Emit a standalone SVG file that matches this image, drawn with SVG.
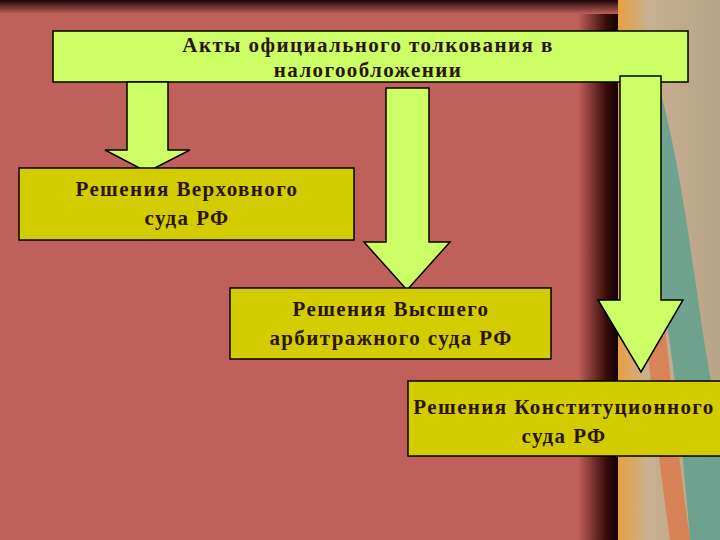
<svg xmlns="http://www.w3.org/2000/svg" width="720" height="540" viewBox="0 0 720 540">
<defs>
<linearGradient id="top" x1="0" y1="0" x2="0" y2="1"><stop offset="0" stop-color="#1a0505"/><stop offset="1" stop-color="#c0605a"/></linearGradient>
<linearGradient id="rs" x1="0" y1="0" x2="1" y2="0"><stop offset="0" stop-color="#c0605a"/><stop offset="0.7" stop-color="#3a0c0a"/><stop offset="1" stop-color="#100000"/></linearGradient>
<linearGradient id="deco" x1="0" y1="0" x2="1" y2="0"><stop offset="0" stop-color="#e8a040"/><stop offset="0.3" stop-color="#c8b090"/><stop offset="1" stop-color="#b8a488"/></linearGradient>
</defs>
<style>
.hi{fill:#ccff66;stroke:#000;stroke-width:1.5}
.lo{fill:#d2cc00;stroke:#000;stroke-width:1.5}
.ar{fill:#ccff66;stroke:#000;stroke-width:1.5}
text{font-family:"Liberation Serif","Times New Roman",serif;font-weight:bold;font-size:21px;letter-spacing:1.4px;fill:#2a1608;text-anchor:middle}
</style>
<rect width="720" height="540" fill="#c0605a"/>
<rect x="578" y="0" width="40" height="540" fill="url(#rs)"/>
<rect x="618" y="0" width="102" height="540" fill="url(#deco)"/>
<path d="M660 90 C690 200 700 350 720 420 L720 540 L690 540 C680 420 670 300 640 200 Z" fill="#5aa090" opacity="0.8"/>
<path d="M640 120 C660 250 670 400 690 540 L670 540 C650 400 640 260 628 150 Z" fill="#e07040" opacity="0.7"/>
<rect width="618" height="14" fill="url(#top)"/>
<g id="top-node"><rect class="hi" x="53" y="31" width="635" height="51"/><text x="368" y="52">Акты официального толкования в</text><text x="368" y="77">налогообложении</text></g>
<g id="connectors">
<polygon class="ar" points="127,82 168,82 168,150 190,150 147,172 105,150 127,150"/>
<polygon class="ar" points="386,88 429,88 429,242 450,242 407,290 364,242 386,242"/>
<polygon class="ar" points="620,76 661,76 661,300 683,300 641,372 598,300 620,300"/>
</g>
<g id="supreme"><rect class="lo" x="19" y="168" width="335" height="72"/><text x="187" y="196">Решения Верховного</text><text x="187" y="225">суда РФ</text></g>
<g id="arbitr"><rect class="lo" x="230" y="288" width="321" height="71"/><text x="391" y="316">Решения Высшего</text><text x="391" y="345">арбитражного суда РФ</text></g>
<g id="const"><rect class="lo" x="408" y="381" width="314" height="75"/><text x="564" y="414">Решения Конституционного</text><text x="564" y="443">суда РФ</text></g>
</svg>
